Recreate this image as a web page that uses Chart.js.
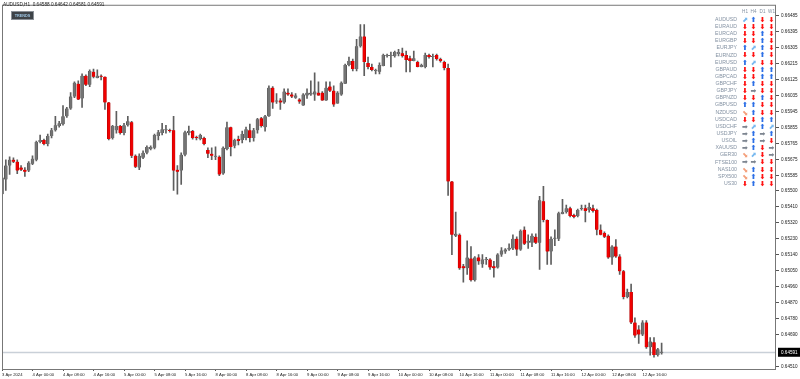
<!DOCTYPE html>
<html>
<head>
<meta charset="utf-8">
<title>AUDUSD,H1</title>
<script src="https://cdn.jsdelivr.net/npm/chart.js"></script>
<style>
  html, body { margin: 0; padding: 0; background: #fff; }
  #wrap { width: 800px; height: 379px; }
</style>
</head>
<body>
<div id="wrap"><canvas id="chart" width="800" height="379"></canvas></div>
<script>
// H1 bars, 3 Apr 16:00 .. 12 Apr 21:00 (weekend skipped)
const opens = [
  0.65479, 0.65562, 0.65640, 0.65673, 0.65662, 0.65629, 0.65617, 0.65612,
  0.65651, 0.65673, 0.65773, 0.65784, 0.65762, 0.65806, 0.65839, 0.65862,
  0.65873, 0.65917, 0.65961, 0.66028, 0.66100, 0.66017, 0.66145, 0.66095,
  0.66167, 0.66133, 0.66145, 0.66139, 0.65995, 0.65795, 0.65839, 0.65862,
  0.65823, 0.65867, 0.65884, 0.65695, 0.65629, 0.65684, 0.65712, 0.65734,
  0.65740, 0.65806, 0.65823, 0.65839, 0.65839, 0.65839, 0.65617, 0.65612,
  0.65701, 0.65823, 0.65834, 0.65801, 0.65789, 0.65795, 0.65728, 0.65706,
  0.65690, 0.65690, 0.65595, 0.65734, 0.65856, 0.65751, 0.65789, 0.65784,
  0.65795, 0.65839, 0.65795, 0.65839, 0.65906, 0.65856, 0.65917, 0.66078,
  0.66000, 0.66006, 0.65995, 0.66050, 0.66039, 0.66022, 0.66011, 0.65978,
  0.66034, 0.66039, 0.66039, 0.66050, 0.66050, 0.66006, 0.66084, 0.66061,
  0.65989, 0.66039, 0.66100, 0.66206, 0.66228, 0.66183, 0.66311, 0.66366,
  0.66217, 0.66194, 0.66172, 0.66167, 0.66200, 0.66256, 0.66256, 0.66256,
  0.66267, 0.66272, 0.66261, 0.66244, 0.66228, 0.66222, 0.66194, 0.66194,
  0.66261, 0.66250, 0.66261, 0.66239, 0.66222, 0.66189, 0.65551, 0.65246,
  0.65251, 0.65074, 0.65063, 0.65118, 0.64996, 0.65124, 0.65085, 0.65110,
  0.65113, 0.65074, 0.65068, 0.65140, 0.65157, 0.65168, 0.65174, 0.65229,
  0.65168, 0.65279, 0.65207, 0.65207, 0.65240, 0.65207, 0.65440, 0.65335,
  0.65157, 0.65229, 0.65229, 0.65368, 0.65379, 0.65401, 0.65362, 0.65357,
  0.65396, 0.65401, 0.65390, 0.65401, 0.65390, 0.65279, 0.65262, 0.65246,
  0.65124, 0.65185, 0.65129, 0.65046, 0.64902, 0.64930, 0.64758, 0.64719,
  0.64691, 0.64758, 0.64619, 0.64647, 0.64575, 0.64588
];
const highs = [
  0.65612, 0.65673, 0.65690, 0.65684, 0.65673, 0.65640, 0.65629, 0.65662,
  0.65695, 0.65778, 0.65812, 0.65789, 0.65817, 0.65850, 0.65917, 0.65889,
  0.65978, 0.65967, 0.66050, 0.66111, 0.66117, 0.66156, 0.66150, 0.66178,
  0.66183, 0.66178, 0.66150, 0.66139, 0.65995, 0.65867, 0.65945, 0.65867,
  0.65878, 0.65917, 0.65889, 0.65701, 0.65706, 0.65723, 0.65751, 0.65751,
  0.65817, 0.65839, 0.65878, 0.65867, 0.65845, 0.65917, 0.65640, 0.65712,
  0.65834, 0.65862, 0.65839, 0.65806, 0.65817, 0.65801, 0.65740, 0.65740,
  0.65745, 0.65695, 0.65745, 0.65884, 0.65856, 0.65789, 0.65806, 0.65834,
  0.65856, 0.65873, 0.65850, 0.65906, 0.65911, 0.65923, 0.66089, 0.66084,
  0.66045, 0.66017, 0.66072, 0.66072, 0.66050, 0.66045, 0.66017, 0.66045,
  0.66072, 0.66117, 0.66161, 0.66111, 0.66056, 0.66111, 0.66111, 0.66089,
  0.66056, 0.66111, 0.66211, 0.66250, 0.66239, 0.66350, 0.66433, 0.66433,
  0.66250, 0.66211, 0.66183, 0.66217, 0.66267, 0.66267, 0.66278, 0.66283,
  0.66294, 0.66300, 0.66283, 0.66256, 0.66283, 0.66228, 0.66211, 0.66272,
  0.66267, 0.66267, 0.66267, 0.66244, 0.66228, 0.66211, 0.65551, 0.65379,
  0.65257, 0.65085, 0.65218, 0.65185, 0.65129, 0.65140, 0.65140, 0.65124,
  0.65118, 0.65102, 0.65146, 0.65179, 0.65174, 0.65201, 0.65251, 0.65240,
  0.65279, 0.65296, 0.65251, 0.65257, 0.65257, 0.65468, 0.65523, 0.65335,
  0.65240, 0.65279, 0.65379, 0.65451, 0.65418, 0.65407, 0.65368, 0.65396,
  0.65418, 0.65418, 0.65429, 0.65418, 0.65396, 0.65307, 0.65268, 0.65251,
  0.65190, 0.65224, 0.65140, 0.65052, 0.64946, 0.64974, 0.64785, 0.64741,
  0.64769, 0.64769, 0.64674, 0.64674, 0.64613, 0.64642
];
const lows = [
  0.65445, 0.65501, 0.65590, 0.65656, 0.65595, 0.65612, 0.65579, 0.65606,
  0.65645, 0.65667, 0.65767, 0.65756, 0.65751, 0.65795, 0.65834, 0.65856,
  0.65867, 0.65911, 0.65956, 0.66022, 0.66011, 0.65967, 0.66089, 0.66084,
  0.66133, 0.66133, 0.66122, 0.65956, 0.65784, 0.65789, 0.65823, 0.65817,
  0.65812, 0.65862, 0.65684, 0.65629, 0.65617, 0.65679, 0.65706, 0.65728,
  0.65734, 0.65784, 0.65812, 0.65823, 0.65828, 0.65501, 0.65479, 0.65534,
  0.65695, 0.65812, 0.65789, 0.65784, 0.65784, 0.65756, 0.65684, 0.65673,
  0.65673, 0.65584, 0.65590, 0.65728, 0.65695, 0.65740, 0.65756, 0.65767,
  0.65784, 0.65773, 0.65778, 0.65823, 0.65856, 0.65834, 0.65917, 0.65961,
  0.65989, 0.65956, 0.65989, 0.66034, 0.66022, 0.66017, 0.65989, 0.65978,
  0.66017, 0.66034, 0.66006, 0.66034, 0.66006, 0.66006, 0.66056, 0.65973,
  0.65989, 0.66034, 0.66100, 0.66200, 0.66172, 0.66172, 0.66305, 0.66145,
  0.66183, 0.66172, 0.66156, 0.66156, 0.66200, 0.66250, 0.66194, 0.66250,
  0.66256, 0.66250, 0.66167, 0.66167, 0.66228, 0.66194, 0.66194, 0.66189,
  0.66244, 0.66194, 0.66233, 0.66222, 0.66178, 0.65473, 0.65140, 0.65240,
  0.65057, 0.64985, 0.65029, 0.64991, 0.64991, 0.65085, 0.65068, 0.65085,
  0.65057, 0.65013, 0.65063, 0.65129, 0.65146, 0.65163, 0.65168, 0.65135,
  0.65163, 0.65196, 0.65174, 0.65185, 0.65201, 0.65057, 0.65323, 0.65085,
  0.65085, 0.65190, 0.65218, 0.65368, 0.65373, 0.65351, 0.65346, 0.65351,
  0.65390, 0.65323, 0.65379, 0.65379, 0.65251, 0.65251, 0.65235, 0.65118,
  0.65085, 0.65124, 0.65029, 0.64891, 0.64896, 0.64752, 0.64674, 0.64641,
  0.64685, 0.64613, 0.64575, 0.64563, 0.64569, 0.64581
];
const closes = [
  0.65573, 0.65640, 0.65673, 0.65662, 0.65612, 0.65617, 0.65606, 0.65656,
  0.65679, 0.65773, 0.65784, 0.65762, 0.65806, 0.65839, 0.65867, 0.65878,
  0.65917, 0.65961, 0.66028, 0.66106, 0.66011, 0.66145, 0.66095, 0.66172,
  0.66139, 0.66145, 0.66139, 0.65995, 0.65789, 0.65862, 0.65862, 0.65823,
  0.65867, 0.65889, 0.65695, 0.65634, 0.65695, 0.65712, 0.65745, 0.65745,
  0.65812, 0.65828, 0.65845, 0.65845, 0.65834, 0.65612, 0.65606, 0.65701,
  0.65828, 0.65834, 0.65795, 0.65795, 0.65812, 0.65762, 0.65706, 0.65695,
  0.65695, 0.65590, 0.65740, 0.65856, 0.65745, 0.65784, 0.65778, 0.65817,
  0.65845, 0.65795, 0.65839, 0.65900, 0.65862, 0.65917, 0.66078, 0.65995,
  0.66006, 0.65995, 0.66056, 0.66039, 0.66028, 0.66034, 0.66000, 0.66039,
  0.66050, 0.66050, 0.66056, 0.66034, 0.66006, 0.66078, 0.66061, 0.65984,
  0.66050, 0.66106, 0.66206, 0.66228, 0.66183, 0.66311, 0.66366, 0.66222,
  0.66194, 0.66178, 0.66178, 0.66206, 0.66261, 0.66261, 0.66261, 0.66278,
  0.66278, 0.66256, 0.66233, 0.66228, 0.66244, 0.66194, 0.66206, 0.66261,
  0.66250, 0.66256, 0.66239, 0.66228, 0.66189, 0.65551, 0.65251, 0.65257,
  0.65063, 0.65063, 0.65124, 0.64996, 0.65124, 0.65102, 0.65113, 0.65113,
  0.65068, 0.65063, 0.65140, 0.65163, 0.65168, 0.65179, 0.65229, 0.65168,
  0.65274, 0.65201, 0.65218, 0.65246, 0.65207, 0.65445, 0.65335, 0.65157,
  0.65229, 0.65235, 0.65373, 0.65379, 0.65401, 0.65357, 0.65351, 0.65390,
  0.65401, 0.65385, 0.65407, 0.65385, 0.65279, 0.65251, 0.65240, 0.65124,
  0.65185, 0.65129, 0.65046, 0.64902, 0.64930, 0.64758, 0.64685, 0.64691,
  0.64758, 0.64619, 0.64652, 0.64575, 0.64608, 0.64591
];

// time axis labels, one every 8 bars
const timeTickBars = [0, 8, 16, 24, 32, 40, 48, 56, 64, 72, 80, 88, 96, 104, 112, 120, 128, 136, 144, 152, 160, 168];
const timeTickText = ['3 Apr 2024', '4 Apr 00:00', '4 Apr 08:00', '4 Apr 16:00', '5 Apr 00:00', '5 Apr 08:00',
  '5 Apr 16:00', '8 Apr 00:00', '8 Apr 08:00', '8 Apr 16:00', '9 Apr 00:00', '9 Apr 08:00', '9 Apr 16:00',
  '10 Apr 00:00', '10 Apr 08:00', '10 Apr 16:00', '11 Apr 00:00', '11 Apr 08:00', '11 Apr 16:00',
  '12 Apr 00:00', '12 Apr 08:00', '12 Apr 16:00'];
const priceTicks = [0.66485, 0.66395, 0.66305, 0.66215, 0.66125, 0.66035, 0.65945, 0.65855, 0.65765, 0.65675,
  0.65585, 0.65500, 0.65410, 0.65320, 0.65230, 0.65140, 0.65050, 0.64960, 0.64870, 0.64780, 0.64690, 0.64510];
const priceMin = 0.64497;
const priceMax = 0.66544;
const totalSlots = 204; // chart shift leaves empty room on the right

// trend panel
const trendPeriods = ['H1', 'H4', 'D1', 'W1'];
const trendSymbols = ['AUDUSD', 'EURAUD', 'EURCAD', 'EURGBP', 'EURJPY', 'EURNZD', 'EURUSD', 'GBPAUD', 'GBPCAD',
  'GBPCHF', 'GBPJPY', 'GBPNZD', 'GBPUSD', 'NZDUSD', 'USDCAD', 'USDCHF', 'USDJPY', 'USOIL', 'XAUUSD', 'GER30',
  'FTSE100', 'NAS100', 'SPX500', 'US30'];
// u = up, d = down, r = flat, U = weak up, D = weak down
const trendCodes = ['Uudd', 'dddd', 'ddud', 'ddud', 'uUud', 'ddud', 'uUdd', 'dduu', 'dduu',
  'dudd', 'drdd', 'ddud', 'uudd', 'Dudd', 'dduu', 'rUuU', 'ruru', 'rurd', 'rudr', 'DUdr',
  'rrdd', 'Dudd', 'Dudd', 'dudd'];

const arrowGlyph = { u: '\u2B06', d: '\u2B07', r: '\u27A1', U: '\u2B08', D: '\u2B0A' };
const arrowColor = { u: '#2c6fe6', d: '#ff1212', r: '#7d8590', U: '#78b9f0', D: '#f4a07c' };

const labels = Array.from({ length: totalSlots }, (_, i) => i);
const bodies = opens.map((o, i) => [o, closes[i]]);
const wicks = lows.map((l, i) => [l, highs[i]]);
const bodyColors = opens.map((o, i) => closes[i] >= o ? '#747474' : '#f00000');
const bodyEdges = opens.map((o, i) => closes[i] >= o ? '#4a4a4a' : '#b00000');
const lastClose = closes[closes.length - 1];

Chart.defaults.font.family = "'Liberation Sans', Arial, sans-serif";

const overlay = {
  id: 'overlay',
  beforeDraw(chart) {
    const ctx = chart.ctx;
    ctx.save();
    ctx.fillStyle = '#fff';
    ctx.fillRect(0, 0, chart.width, chart.height);
    ctx.restore();
  },
  beforeDatasetsDraw(chart) {
    // bid line
    const { ctx, chartArea: a, scales: { y } } = chart;
    const py = Math.round(y.getPixelForValue(lastClose)) + 0.5;
    ctx.save();
    ctx.strokeStyle = '#c9d0d8';
    ctx.lineWidth = 1.5;
    ctx.beginPath();
    ctx.moveTo(a.left, py);
    ctx.lineTo(a.right, py);
    ctx.stroke();
    ctx.restore();
  },
  afterDraw(chart) {
    const { ctx, chartArea: a, scales: { y } } = chart;
    ctx.save();

    // frame
    ctx.strokeStyle = '#777';
    ctx.lineWidth = 1;
    ctx.strokeRect(a.left + 0.5, a.top + 0.5, a.right - a.left - 1, a.bottom - a.top);

    // price box on the axis
    const py = y.getPixelForValue(lastClose);
    ctx.fillStyle = '#000';
    ctx.fillRect(a.right + 2, py - 4.5, chart.width - a.right - 2, 9);
    ctx.fillStyle = '#fff';
    ctx.font = "4.6px 'Liberation Sans'";
    ctx.textBaseline = 'middle';
    ctx.textAlign = 'left';
    ctx.fillText(lastClose.toFixed(5), a.right + 5, py + 0.5);

    // header
    ctx.fillStyle = '#222';
    ctx.font = "4.7px 'Liberation Sans'";
    ctx.fillText('AUDUSD,H1  ' + opens[opens.length - 1].toFixed(5) + ' ' + highs[highs.length - 1].toFixed(5) + ' ' +
      lows[lows.length - 1].toFixed(5) + ' ' + lastClose.toFixed(5), 3, 5);

    // TRENDS button
    ctx.fillStyle = '#3e4348';
    ctx.fillRect(11, 11, 23, 9);
    ctx.strokeStyle = '#8a9097';
    ctx.strokeRect(11.5, 11.5, 22, 8);
    ctx.fillStyle = '#9cc3e0';
    ctx.font = "bold 3.8px 'Liberation Sans'";
    ctx.textAlign = 'center';
    ctx.fillText('TRENDS', 22.5, 15.8);

    // trend table
    const colX = [745, 753.5, 762.5, 771.5];
    ctx.font = "4.6px 'Liberation Sans'";
    ctx.fillStyle = '#8391a2';
    trendPeriods.forEach((p, k) => ctx.fillText(p, colX[k], 11.5));
    trendSymbols.forEach((s, r) => {
      const ry = 19.5 + r * 7.13;
      ctx.textAlign = 'right';
      ctx.fillStyle = '#8391a2';
      ctx.font = "5.2px 'Liberation Sans'";
      ctx.fillText(s, 737, ry);
      ctx.textAlign = 'center';
      ctx.font = "bold 7px 'DejaVu Sans'";
      for (let k = 0; k < 4; k++) {
        const c = trendCodes[r][k];
        ctx.fillStyle = arrowColor[c];
        ctx.fillText(arrowGlyph[c], colX[k], ry + 0.5);
      }
    });
    ctx.restore();
  }
};

new Chart(document.getElementById('chart'), {
  type: 'bar',
  data: {
    labels,
    datasets: [
      { data: bodies, backgroundColor: bodyColors, borderColor: bodyEdges, borderWidth: { left: 0.6, right: 0.6, top: 0, bottom: 0 },
        borderSkipped: false, barThickness: 3, grouped: false, minBarLength: 1 },
      { data: wicks, backgroundColor: '#5e5e5e', barThickness: 1, grouped: false, borderWidth: 0 }
    ]
  },
  options: {
    responsive: false,
    animation: false,
    events: [],
    layout: { padding: { left: 2, top: 0, right: 0, bottom: 0 } },
    plugins: { legend: { display: false }, tooltip: { enabled: false } },
    scales: {
      x: {
        offset: false,
        grid: { offset: false, drawOnChartArea: false, drawTicks: true, tickLength: 2, color: '#555' },
        border: { display: false },
        afterBuildTicks: (scale) => { scale.ticks = timeTickBars.map(v => ({ value: v })); },
        afterFit: (scale) => { scale.height = 10; },
        ticks: {
          autoSkip: false, maxRotation: 0, minRotation: 0, align: 'start', padding: 1,
          color: '#222', font: { size: 4.2 },
          callback: (v) => timeTickText[timeTickBars.indexOf(v)]
        }
      },
      y: {
        position: 'right',
        min: priceMin,
        max: priceMax,
        grid: { drawOnChartArea: false, drawTicks: true, tickLength: 3, color: '#555' },
        border: { display: false },
        afterBuildTicks: (scale) => { scale.ticks = priceTicks.map(v => ({ value: v })); },
        afterFit: (scale) => { scale.width = 24; },
        ticks: {
          autoSkip: false, padding: 2, color: '#222', font: { size: 4.6 },
          callback: (v) => v.toFixed(5)
        }
      }
    }
  },
  plugins: [overlay]
});
</script>
</body>
</html>
